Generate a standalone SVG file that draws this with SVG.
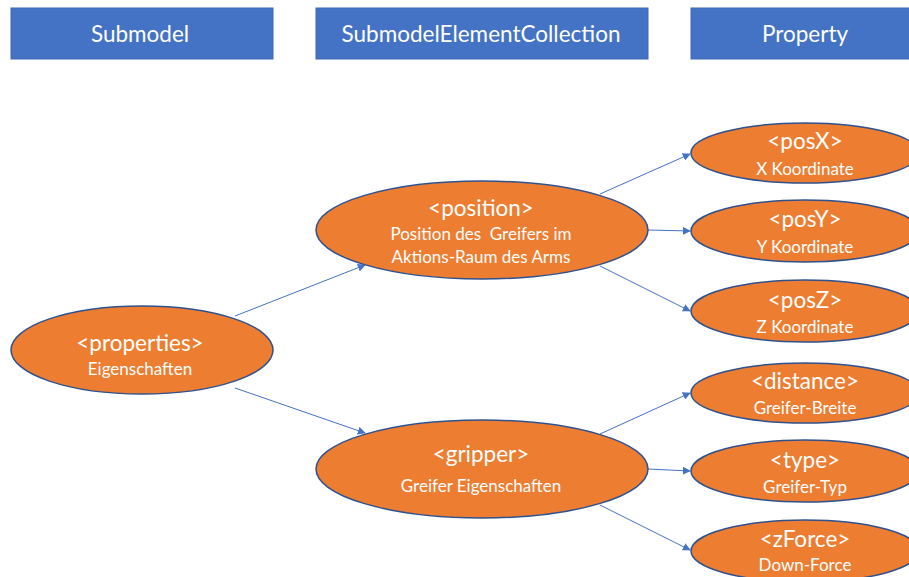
<svg xmlns="http://www.w3.org/2000/svg" width="909" height="577" viewBox="0 0 909 577">
  <style>
    .hdr { fill: #4472C4; stroke: #3E68B5; stroke-width: 1; }
    .hdr-t { fill: #FFFFFF; font-family: Lato, "Open Sans", "Liberation Sans", sans-serif; font-size: 22.5px; text-anchor: middle; }
    .node { fill: #ED7D31; stroke: #2F528F; stroke-width: 1.5; }
    .big { fill: #FFFFFF; font-family: Lato, "Open Sans", "Liberation Sans", sans-serif; font-size: 22.5px; text-anchor: middle; }
    .small { fill: #FFFFFF; font-family: Lato, "Open Sans", "Liberation Sans", sans-serif; font-size: 17px; text-anchor: middle; }
    .edge { stroke: #4472C4; stroke-width: 1; fill: none; marker-end: url(#arrow); }
  </style>
  <defs>
    <marker id="arrow" viewBox="0 0 10 10" refX="9" refY="5" markerWidth="8" markerHeight="8" markerUnits="userSpaceOnUse" orient="auto">
      <path d="M0,0 L10,5 L0,10 z" fill="#4472C4"/>
    </marker>
  </defs>

  <rect width="909" height="577" fill="#FFFFFF"/>

  <!-- column headers -->
  <g id="hdr-submodel">
    <rect class="hdr" x="11" y="8" width="262" height="51"/>
    <text class="hdr-t" x="140" y="42">Submodel</text>
  </g>
  <g id="hdr-collection">
    <rect class="hdr" x="316" y="8" width="332" height="51"/>
    <text class="hdr-t" x="481" y="42">SubmodelElementCollection</text>
  </g>
  <g id="hdr-property">
    <rect class="hdr" x="691" y="8" width="230" height="51"/>
    <text class="hdr-t" x="805" y="42">Property</text>
  </g>

  <!-- connectors -->
  <g id="connectors">
    <line class="edge" x1="235" y1="316" x2="365" y2="265"/>
    <line class="edge" x1="235" y1="388" x2="365" y2="433"/>
    <line class="edge" x1="600" y1="194" x2="690" y2="154"/>
    <line class="edge" x1="648" y1="230" x2="690" y2="231"/>
    <line class="edge" x1="600" y1="266" x2="690" y2="311"/>
    <line class="edge" x1="600" y1="434" x2="690" y2="393"/>
    <line class="edge" x1="648" y1="469" x2="690" y2="471"/>
    <line class="edge" x1="600" y1="505" x2="690" y2="550"/>
  </g>

  <!-- submodel -->
  <g id="properties">
    <ellipse class="node" cx="142" cy="350" rx="131" ry="44"/>
    <text class="big" x="140" y="351">&lt;properties&gt;</text>
    <text class="small" x="140" y="375">Eigenschaften</text>
  </g>

  <!-- collections -->
  <g id="position">
    <ellipse class="node" cx="482" cy="230" rx="166" ry="49"/>
    <text class="big" x="481" y="216">&lt;position&gt;</text>
    <text class="small" x="481" y="240" xml:space="preserve">Position des  Greifers im</text>
    <text class="small" x="481" y="263">Aktions-Raum des Arms</text>
  </g>
  <g id="gripper">
    <ellipse class="node" cx="482" cy="469" rx="166" ry="49"/>
    <text class="big" x="481" y="462">&lt;gripper&gt;</text>
    <text class="small" x="481" y="492">Greifer Eigenschaften</text>
  </g>

  <!-- properties -->
  <g id="posX">
    <ellipse class="node" cx="805" cy="153" rx="114" ry="30"/>
    <text class="big" x="805" y="149">&lt;posX&gt;</text>
    <text class="small" x="805" y="175">X Koordinate</text>
  </g>
  <g id="posY">
    <ellipse class="node" cx="805" cy="231" rx="114" ry="31"/>
    <text class="big" x="805" y="227">&lt;posY&gt;</text>
    <text class="small" x="805" y="253">Y Koordinate</text>
  </g>
  <g id="posZ">
    <ellipse class="node" cx="805" cy="311" rx="114" ry="31"/>
    <text class="big" x="805" y="308">&lt;posZ&gt;</text>
    <text class="small" x="805" y="333">Z Koordinate</text>
  </g>
  <g id="distance">
    <ellipse class="node" cx="805" cy="393" rx="114" ry="30"/>
    <text class="big" x="805" y="389">&lt;distance&gt;</text>
    <text class="small" x="805" y="414">Greifer-Breite</text>
  </g>
  <g id="type">
    <ellipse class="node" cx="805" cy="471" rx="114" ry="31"/>
    <text class="big" x="805" y="468">&lt;type&gt;</text>
    <text class="small" x="805" y="493">Greifer-Typ</text>
  </g>
  <g id="zForce">
    <ellipse class="node" cx="805" cy="551" rx="114" ry="31"/>
    <text class="big" x="805" y="547">&lt;zForce&gt;</text>
    <text class="small" x="805" y="571">Down-Force</text>
  </g>
</svg>
